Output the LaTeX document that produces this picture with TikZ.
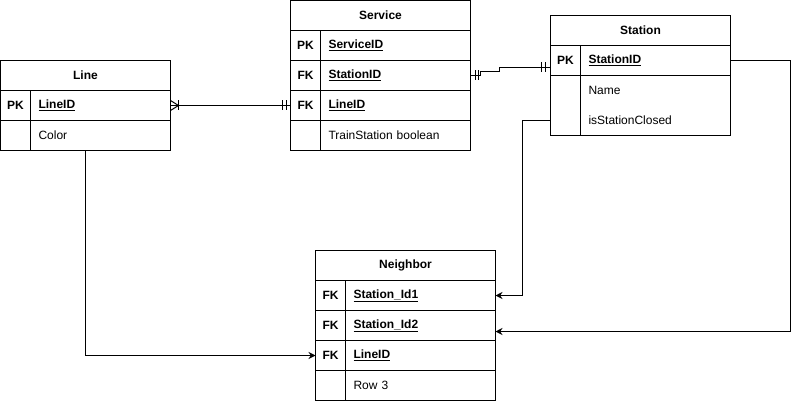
\documentclass[tikz,border=0pt]{standalone}
\usepackage{fontspec}
\setmainfont{Liberation Sans}
\usetikzlibrary{arrows.meta,calc}
\begin{document}
\begin{tikzpicture}[x=1pt,y=-1pt,
  cell/.style={draw, line width=1pt, minimum height=30pt, inner sep=0pt, outer sep=0pt, anchor=north west, font=\fontsize{12}{14}\selectfont},
  hdr/.style={cell, minimum width=#1, font=\fontsize{12}{14}\selectfont\bfseries},
  keyc/.style={cell, minimum width=30pt, font=\fontsize{12}{14}\selectfont\bfseries},
  fld/.style={cell, text width=134pt, inner xsep=8pt, align=left},
  fldk/.style={fld, font=\fontsize{12}{14}\selectfont\bfseries},
  fldn/.style={fld, draw=none},
  conn/.style={line width=1pt},
  arr/.style={line width=1pt, -{Stealth[length=7pt,width=7pt]}}]
\useasboundingbox (0,0) rectangle (800,401);

% Line
\node[hdr=170pt] (lineH) at (0.5,60.5) {Line};
\node[keyc] (lineK1) at (0.5,90.5) {PK};
\node[fldk, text width=124pt] (lineF1) at (30.5,90.5) {\underline{LineID}};
\node[keyc] (lineK2) at (0.5,120.5) {};
\node[fld, text width=124pt] (lineF2) at (30.5,120.5) {Color};

% Service
\node[hdr=180pt] (svcH) at (290.5,0.5) {Service};
\node[keyc] (svcK1) at (290.5,30.5) {PK};
\node[fldk] (svcF1) at (320.5,30.5) {\underline{ServiceID}};
\node[keyc] (svcK2) at (290.5,60.5) {FK};
\node[fldk] (svcF2) at (320.5,60.5) {\underline{StationID}};
\node[keyc] (svcK3) at (290.5,90.5) {FK};
\node[fldk] (svcF3) at (320.5,90.5) {\underline{LineID}};
\node[keyc] (svcK4) at (290.5,120.5) {};
\node[fld] (svcF4) at (320.5,120.5) {TrainStation boolean};

% Station
\node[hdr=180pt] (stH) at (550.5,15.5) {Station};
\node[keyc] (stK1) at (550.5,45.5) {PK};
\node[fldk] (stF1) at (580.5,45.5) {\underline{StationID}};
\node[keyc, minimum height=60pt] (stK2) at (550.5,75.5) {};
\node[fldn] (stF2) at (580.5,75.5) {Name};
\node[fldn] (stF3) at (580.5,105.5) {isStationClosed};
\draw[line width=1pt] (stF2.north west) rectangle (stF3.south east);

% Neighbor
\node[hdr=180pt] (nbH) at (315.5,250.5) {Neighbor};
\node[keyc] (nbK1) at (315.5,280.5) {FK};
\node[fldk] (nbF1) at (345.5,280.5) {\underline{Station\_Id1}};
\node[keyc] (nbK2) at (315.5,310.5) {FK};
\node[fldk] (nbF2) at (345.5,310.5) {\underline{Station\_Id2}};
\node[keyc] (nbK3) at (315.5,340.5) {FK};
\node[fldk] (nbF3) at (345.5,340.5) {\underline{LineID}};
\node[keyc] (nbK4) at (315.5,370.5) {};
\node[fld] (nbF4) at (345.5,370.5) {Row 3};

% Line -- Service (one-to-many / mandatory one)
\draw[conn] (lineF1.east) -- (svcK3.west);
\draw[conn] ($(lineF1.east)+(0,-5)$) -- ($(lineF1.east)+(8,0)$) -- ($(lineF1.east)+(0,5)$);
\draw[conn] ($(lineF1.east)+(8,-5)$) -- ++(0,10);
\draw[conn] ($(svcK3.west)+(-8,-5)$) -- ++(0,10);
\draw[conn] ($(svcK3.west)+(-4,-5)$) -- ++(0,10);

% Service -- Station (mandatory one both ends)
\coordinate (stIn) at ($(stK1.west)+(0,7)$);
\draw[conn] (svcF2.east) -- ++(10,0) -- ++(0,-4) -- ++(19,0) |- (stIn);
\draw[conn] ($(svcF2.east)+(5,-5)$) -- ++(0,10);
\draw[conn] ($(svcF2.east)+(8,-5)$) -- ++(0,10);
\draw[conn] ($(stIn)+(-9,-5)$) -- ++(0,10);
\draw[conn] ($(stIn)+(-5,-5)$) -- ++(0,10);

% Station -> Neighbor
\coordinate (nb2In) at ($(nbF2.east)+(0,6)$);
\draw[arr] (stF1.east) -- ++(59.5,0) |- (nb2In);
\coordinate (stOut) at ($(stK2.west)+(0,15)$);
\draw[arr] (stOut) -- ++(-28.5,0) |- (nbF1.east);

% Line -> Neighbor
\draw[arr] (lineH.center |- lineF2.south) |- (nbK3.west);
\end{tikzpicture}
\end{document}
